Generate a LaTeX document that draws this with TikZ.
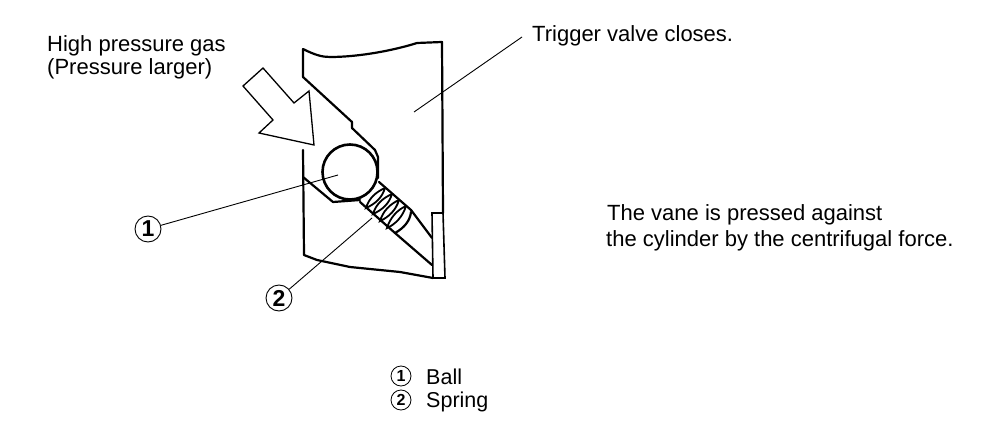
\documentclass[tikz,border=0pt]{standalone}
\usepackage{fontspec}
\setmainfont{Liberation Sans}
\tikzset{
  wall/.style={line width=2.2pt, line join=round, line cap=round},
  leader/.style={line width=0.9pt},
  coil/.style={line width=1.8pt},
  label/.style={anchor=base west, inner sep=0pt, font=\fontsize{22}{22}\selectfont},
  keylabel/.style={anchor=base west, inner sep=0pt, font=\fontsize{21.5}{22}\selectfont},
  callout/.style={circle, draw, line width=0.9pt, inner sep=0pt, minimum size=26pt, font=\fontsize{23}{23}\selectfont\bfseries},
  keymark/.style={circle, draw, line width=0.8pt, inner sep=0pt, minimum size=20pt, font=\fontsize{16}{16}\selectfont\bfseries}
}
\begin{document}
\begin{tikzpicture}[x=1pt,y=-1pt]
\useasboundingbox (0,0) rectangle (1008,430);
\node[label] (highgas) at (47,52){High pressure gas};
\node[label] (larger) at (47,75){(Pressure larger)};
\node[label] (trigger) at (532,42){Trigger valve closes.};
\node[label] (vane) at (607,221){The vane is pressed against};
\node[label] (cylinder) at (606,247){the cylinder by the centrifugal force.};
\node[keylabel] (ball) at (426,384){Ball};
\node[keylabel] (spring) at (426,407){Spring};
\node[keymark] (key1) at (401,376){1};
\node[keymark] (key2) at (401,400){2};
\node[callout] (mark1) at (148,229){1};
\node[callout] (mark2) at (279,298){2};
\node[circle, draw, line width=2.6pt, inner sep=0pt, minimum size=55pt] (ballnode) at (350,172){};
\coordinate (triggerend) at (414,112);
\coordinate (triggerstart) at (522,37);
\coordinate (ballend) at (338,175);
\coordinate (springend) at (372,218);
\draw[leader](triggerstart) -- (triggerend);
\draw[leader](mark1) -- (ballend);
\draw[leader](mark2) -- (springend);
% body
\draw[wall] (303,77) -- (303,49) .. controls (315,55) and (322,57) .. (330,57)
  .. controls (360,57) and (395,50) .. (417,43) -- (442,42) -- (443,213);
\draw[wall] (303,150) -- (304,255) -- (317,260) -- (350,267) -- (400,272) -- (433,278);
% tab
\draw[line width=1.6pt] (443,213) -- (432,213) -- (433,278) -- (445,278) -- (443,213);
% passage
\draw[wall] (303,77) -- (352,122) -- (352,128) -- (375,150) -- (378,157) -- (378,178);
\draw[wall] (303,177) -- (333,202) -- (360,200);
\draw[wall] (379,182) -- (411,210) -- (432,238);
\draw[wall] (360,202) -- (395,233) -- (432,265);
\draw[wall] (411,212) .. controls (410,221) and (404,228) .. (395,233);
% spring
\draw[coil] (385,188) .. controls (382,198) and (375,204) .. (366,208) .. controls (369,198) and (376,192) .. (385,188);
\draw[coil] (392,194) .. controls (389,204) and (382,210) .. (373,214) .. controls (376,204) and (383,198) .. (392,194);
\draw[coil] (399,200) .. controls (396,210) and (389,217) .. (380,221) .. controls (383,211) and (390,204) .. (399,200);
\draw[coil] (406,206) .. controls (403,216) and (396,224) .. (387,228) .. controls (390,218) and (397,210) .. (406,206);
% arrow
\draw[line width=1.3pt, line join=miter] (263,68) -- (243,86) -- (273,120) -- (259,133) -- (314,145) -- (309,91) -- (294,103) -- cycle;
\end{tikzpicture}
\end{document}
